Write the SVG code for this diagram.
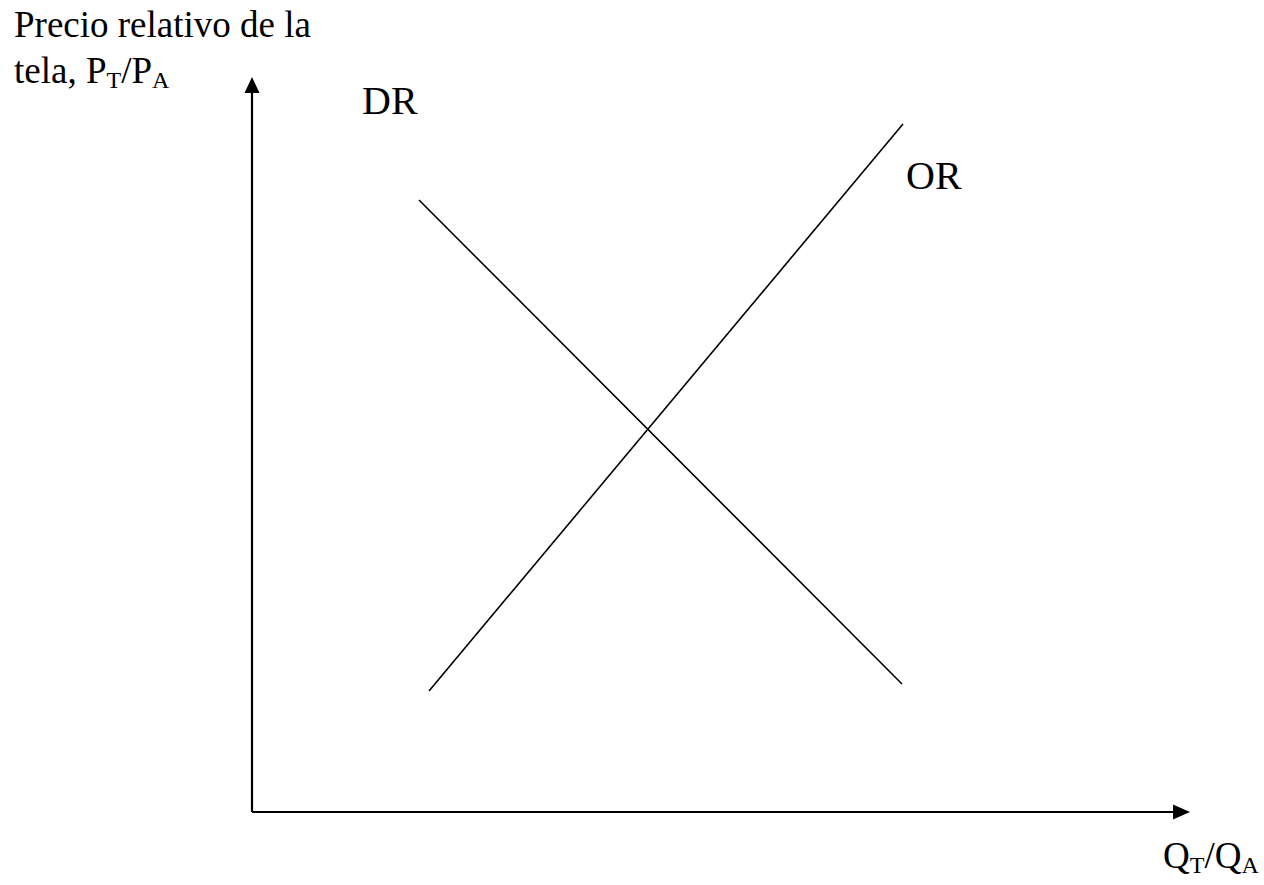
<svg xmlns="http://www.w3.org/2000/svg" width="1264" height="885" viewBox="0 0 1264 885">
<style>
.t{font-family:"Liberation Serif","Times New Roman",serif;font-size:37px;fill:#000}
.big{font-size:40px}
.s{font-size:24px}
.ax{stroke:#000;stroke-width:2.2;fill:none}
.cv{stroke:#000;stroke-width:1.6;fill:none}
</style>
<rect width="1264" height="885" fill="#fff"/>
<g id="connectors">
<line class="ax" x1="252" y1="812" x2="252" y2="92"/>
<polygon points="252,77 244.5,93 259.5,93" fill="#000"/>
<line class="ax" x1="252" y1="812" x2="1174" y2="812"/>
<polygon points="1190,812 1173,804.5 1173,819.5" fill="#000"/>
</g>
<g id="DR">
<line class="cv" x1="419" y1="200" x2="902" y2="684"/>
<text class="t big" x="362" y="114">DR</text>
</g>
<g id="OR">
<line class="cv" x1="429" y1="691" x2="903" y2="124"/>
<text class="t big" x="906" y="189">OR</text>
</g>
<g id="ylabel">
<text class="t" x="14" y="37">Precio relativo de la</text>
<text class="t" x="14" y="83">tela, P<tspan class="s" dy="5">T</tspan><tspan dy="-5">/P</tspan><tspan class="s" dy="5">A</tspan></text>
</g>
<g id="xlabel">
<text class="t" x="1163" y="868">Q<tspan class="s" dy="5">T</tspan><tspan dy="-5">/Q</tspan><tspan class="s" dy="5">A</tspan></text>
</g>
</svg>
